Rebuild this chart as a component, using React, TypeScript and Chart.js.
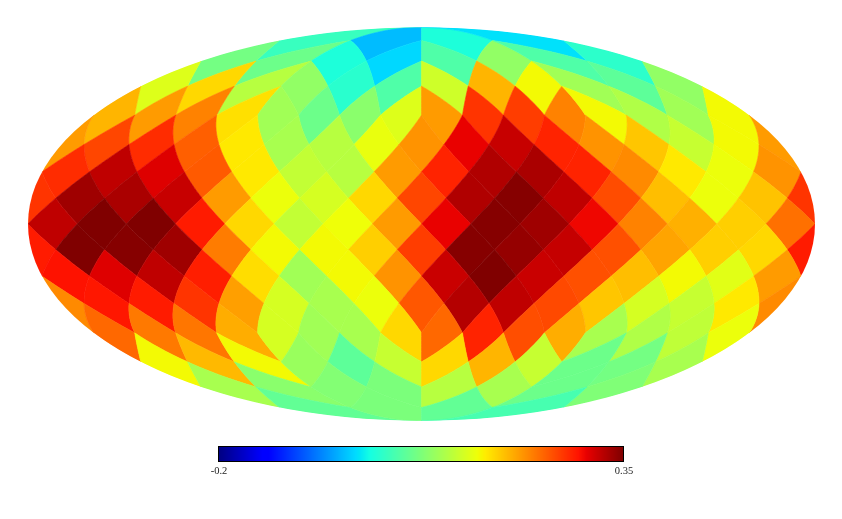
import React, { useEffect, useRef } from "react";
import { Chart, registerables } from "chart.js";
Chart.register(...registerables);

const NSIDE = 4;
const ring1 = [0.03, -0.03, 0.012, -0.01];
const ring2 = [0.07, 0.065, 0.012, -0.015, 0.045, 0.09, 0.045, 0.022];
const ring3 = [0.14, 0.175, 0.115, 0.09, 0.02, 0.045, 0.13, 0.195, 0.155, 0.1, 0.055, 0.09];
const ring4 = [0.195, 0.21, 0.225, 0.17, 0.1, 0.065, 0.085, 0.14, 0.21, 0.27, 0.265, 0.225, 0.155, 0.11, 0.1, 0.155];
const ring5 = [0.21, 0.26, 0.275, 0.245, 0.165, 0.105, 0.115, 0.148, 0.215, 0.3, 0.316, 0.28, 0.215, 0.185, 0.125, 0.155];
const ring6 = [0.275, 0.32, 0.305, 0.248, 0.165, 0.122, 0.115, 0.21, 0.28, 0.327, 0.33, 0.28, 0.22, 0.165, 0.15, 0.215];
const ring7 = [0.27, 0.335, 0.33, 0.316, 0.21, 0.15, 0.135, 0.175, 0.26, 0.327, 0.347, 0.32, 0.256, 0.19, 0.15, 0.187];
const ring8 = [0.32, 0.35, 0.35, 0.285, 0.175, 0.122, 0.152, 0.21, 0.3, 0.347, 0.335, 0.297, 0.225, 0.198, 0.18, 0.235];
const ring9 = [0.285, 0.35, 0.347, 0.335, 0.228, 0.155, 0.155, 0.18, 0.265, 0.347, 0.34, 0.317, 0.254, 0.205, 0.18, 0.175];
const ring10 = [0.29, 0.305, 0.32, 0.283, 0.172, 0.1, 0.155, 0.215, 0.315, 0.35, 0.315, 0.254, 0.19, 0.155, 0.143, 0.21];
const ring11 = [0.22, 0.287, 0.285, 0.27, 0.208, 0.135, 0.105, 0.15, 0.25, 0.325, 0.32, 0.258, 0.185, 0.135, 0.125, 0.165];
const ring12 = [0.24, 0.23, 0.232, 0.2, 0.135, 0.1, 0.105, 0.175, 0.24, 0.28, 0.255, 0.2, 0.105, 0.11, 0.12, 0.15];
const ring13 = [0.155, 0.193, 0.155, 0.095, 0.055, 0.125, 0.175, 0.195, 0.125, 0.065, 0.07, 0.105];
const ring14 = [0.105, 0.085, 0.08, 0.075, 0.115, 0.105, 0.065, 0.078];
const ring15 = [0.058, 0.075, 0.058, 0.04];
const rings = [ring1, ring2, ring3, ring4, ring5, ring6, ring7, ring8, ring9, ring10, ring11, ring12, ring13, ring14, ring15];
const barMin = -0.2;
const barMax = 0.35;
const barLabels = ["-0.2", "0.35"];

const K = 393.5 / (2 * Math.SQRT2);
const CX = 421.5, CY = 224;
const BAR_K = 405 / (barMax - barMin);
const BAR_L = 218;

function jet(t: number) {
  const ramp = (p: number[][]) => {
    for (let i = 1; i < p.length; i++) if (t <= p[i][0]) {
      const f = (t - p[i-1][0]) / (p[i][0] - p[i-1][0]);
      return p[i-1][1] + f * (p[i][1] - p[i-1][1]);
    }
    return p[p.length-1][1];
  };
  const r = ramp([[0,0],[0.35,0],[0.66,1],[0.89,1],[1,0.5]]);
  const g = ramp([[0,0],[0.125,0],[0.375,1],[0.64,1],[0.91,0],[1,0]]);
  const b = ramp([[0,0.5],[0.11,1],[0.34,1],[0.65,0],[1,0]]);
  return `rgb(${Math.round(r*255)},${Math.round(g*255)},${Math.round(b*255)})`;
}
const colorOf = (v: number) => jet(Math.max(0, Math.min(1, (v - barMin) / (barMax - barMin))));

function moll(lon: number, z: number) {
  const phi = Math.asin(Math.max(-1, Math.min(1, z)));
  let t = phi;
  if (Math.abs(z) < 1) for (let i = 0; i < 50; i++) {
    const den = 2 + 2*Math.cos(2*t);
    if (den < 1e-9) break;
    t -= (2*t + Math.sin(2*t) - Math.PI*z) / den;
  }
  return { x: (2*Math.SQRT2/Math.PI)*lon*Math.cos(t), y: Math.SQRT2*Math.sin(t) };
}
function inv(xs: number, ys: number, xc: number) {
  if (Math.abs(ys) <= Math.PI/4 + 1e-9) return moll(xs, 8*ys/(3*Math.PI));
  const s = 2 - 4*Math.abs(ys)/Math.PI;
  const z = Math.sign(ys)*(1 - s*s/3);
  return moll(s < 1e-9 ? xc : xc + (xs-xc)/s, z);
}
function cells() {
  const out: any[] = [];
  const N = NSIDE, d = Math.PI/(4*N);
  for (let i = 1; i < 4*N; i++) {
    const ys = Math.PI/2 - i*d, vals = rings[i-1];
    const r = Math.min(i, 4*N-i);
    if (r < N) {
      let j = 0;
      for (let k = 0; k < 4; k++) {
        const xc = -Math.PI*3/4 + k*Math.PI/2;
        for (let m = 0; m < r; m++) out.push({ xs: xc + (m-(r-1)/2)*2*d, ys, xc, v: vals[j++] });
      }
    } else {
      const s = (i-N+1)%2;
      for (let j = 0; j < 4*N; j++) {
        const xs = -Math.PI + (j + s*0.5)*2*d;
        const fk = Math.min(3, Math.max(0, Math.floor((xs+Math.PI)/(Math.PI/2))));
        out.push({ xs, ys, xc: -Math.PI*3/4 + fk*Math.PI/2, v: vals[j] });
        if (s === 0 && j === 0) out.push({ xs: Math.PI, ys, xc: Math.PI*3/4, v: vals[j] });
      }
    }
  }
  return out.map(p => ({ ...p, ...inv(p.xs, p.ys, p.xc) }));
}

export default function App() {
  const ref = useRef<HTMLCanvasElement>(null);
  useEffect(() => {
    document.body.style.margin = "0";
    const d = Math.PI/(4*NSIDE);
    const plugin = { id: "healpixMap", afterDatasetsDraw(c: any) {
      const ctx = c.ctx, X = c.scales.x, Y = c.scales.y, B = c.scales.xBar;
      const cor = [[0,1],[1,0],[0,-1],[-1,0],[0,1]];
      ctx.save();
      ctx.beginPath();
      ctx.ellipse(X.getPixelForValue(0), Y.getPixelForValue(0),
        X.getPixelForValue(2*Math.SQRT2)-X.getPixelForValue(0),
        Y.getPixelForValue(0)-Y.getPixelForValue(Math.SQRT2), 0, 0, Math.PI*2);
      ctx.clip();
      for (const p of c.data.datasets[0].data) {
        ctx.beginPath();
        for (let e = 0; e < 4; e++) for (let t = 0; t < 8; t++) {
          const a = cor[e], b = cor[e+1], f = t/8;
          const q = inv(p.xs + d*(a[0]+(b[0]-a[0])*f), p.ys + d*(a[1]+(b[1]-a[1])*f), p.xc);
          const px = X.getPixelForValue(q.x), py = Y.getPixelForValue(q.y);
          if (e===0&&t===0) ctx.moveTo(px,py); else ctx.lineTo(px,py);
        }
        ctx.closePath();
        const col = colorOf(p.v);
        ctx.fillStyle = col; ctx.strokeStyle = col; ctx.lineWidth = 0.6; ctx.lineJoin = "round";
        ctx.fill(); ctx.stroke();
      }
      ctx.restore();
      // colour bar: one whole-pixel column per step along its own value scale
      const top = 446, h = 16;
      const x0 = B.getPixelForValue(barMin), x1 = B.getPixelForValue(barMax);
      for (let px = Math.round(x0); px < Math.round(x1); px++) {
        ctx.fillStyle = colorOf(B.getValueForPixel(px + 0.5));
        ctx.fillRect(px, top, 1, h);
      }
      ctx.strokeStyle = "#000"; ctx.lineWidth = 1;
      ctx.strokeRect(x0+0.5, top+0.5, x1-x0, h-1);
      ctx.fillStyle = "#222"; ctx.font = '10.5px "Liberation Serif"'; ctx.textAlign = "center"; ctx.textBaseline = "alphabetic";
      ctx.fillText(barLabels[0], x0+1, 474);
      ctx.fillText(barLabels[1], x1+1, 474);
    }};
    const chart = new Chart(ref.current!, {
      type: "scatter",
      data: { datasets: [{ data: cells(), pointRadius: 0, showLine: false } as any] },
      options: {
        responsive: false, animation: false, events: [],
        plugins: { legend: { display: false }, tooltip: { enabled: false } },
        layout: { padding: 0 },
        scales: {
          x: { display: false, min: -CX/K, max: (842-CX)/K },
          y: { display: false, min: (CY-519)/K, max: CY/K },
          xBar: { display: false, axis: "x", min: barMin - BAR_L/BAR_K, max: barMin + (842-BAR_L)/BAR_K } as any,
        },
      },
      plugins: [plugin],
    });
    return () => chart.destroy();
  }, []);
  return <canvas ref={ref} width={842} height={519} style={{ display: "block" }} />;
}
